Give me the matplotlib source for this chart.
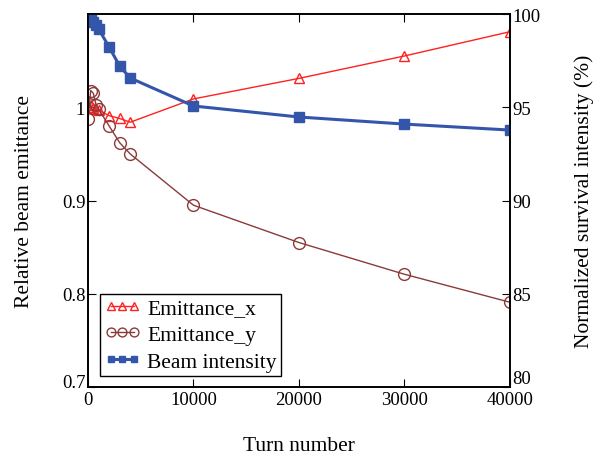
import matplotlib
matplotlib.use('Agg')
import matplotlib.pyplot as plt
import numpy as np

plt.rcParams['font.family'] = ['Liberation Serif', 'DejaVu Serif']

# Daten
turns = [0, 250, 500, 750, 1000, 2000, 3000, 4000, 10000, 20000, 30000, 40000]
emit_x = [1.000, 1.002, 0.999, 0.998, 0.997, 0.991, 0.988, 0.984, 1.009, 1.031, 1.055, 1.081]
emit_y = [0.987, 1.018, 1.015, 1.003, 0.998, 0.980, 0.962, 0.950, 0.895, 0.855, 0.821, 0.791]
intensity = [100.0, 99.85, 99.6, 99.4, 99.2, 98.23, 97.21, 96.57, 95.07, 94.48, 94.10, 93.78]

red = '#ff2020'
brown = '#8b3a3a'
blue = '#3356aa'

fig = plt.figure(figsize=(5.99, 4.56), dpi=100)
ax = fig.add_axes([0.147, 0.149, 0.704, 0.818])
ax2 = ax.twinx()

l1, = ax.plot(turns, emit_x, '-', color=red, lw=1, marker='^', ms=7,
              mfc='none', mec=red, mew=1, label='Emittance_x')
l2, = ax.plot(turns, emit_y, '-', color=brown, lw=1, marker='o', ms=8.5,
              mfc='none', mec=brown, mew=1, label='Emittance_y')
l3, = ax2.plot(turns, intensity, '-', color=blue, lw=2.2, marker='s', ms=6.5,
               mfc=blue, mec=blue, label='Beam intensity')

ax.set_xlim(0, 40000)
ax.set_ylim(0.7, 1.1)
ax2.set_ylim(80, 100)
ax.set_xticks([0, 10000, 20000, 30000, 40000])
ax.set_yticks([0.7, 0.8, 0.9, 1.0])
ax.set_yticklabels(['0.7', '0.8', '0.9', '1'])
ax2.set_yticks([80, 85, 90, 95, 100])

ax.tick_params(axis='x', direction='in', top=True, length=6, labelsize=13.5, pad=3)
ax.tick_params(axis='y', direction='in', length=6, labelsize=13.5, pad=2)
ax2.tick_params(axis='y', direction='in', length=6, labelsize=13.5, pad=2)
# 80 und 0.7 sitzen in der Vorlage etwas hoeher
ax2.yaxis.get_major_ticks()[0].label2.set_verticalalignment('bottom')
ax.yaxis.get_major_ticks()[0].label1.set_verticalalignment('baseline')

ax.set_xlabel('Turn number', fontsize=15.5, labelpad=20)
ax.set_ylabel('Relative beam emittance', fontsize=15.5, labelpad=20)
ax2.set_ylabel('Normalized survival intensity (%)', fontsize=15.5, labelpad=24)

for a in (ax, ax2):
    for s in a.spines.values():
        s.set_linewidth(1.2)

leg = ax.legend(handles=[l1, l2, l3], loc='lower left', numpoints=3,
                fontsize=15.5, frameon=True, fancybox=False, edgecolor='black',
                framealpha=1, handlelength=1.7, handletextpad=0.3,
                borderpad=0.2, labelspacing=0.3, markerscale=0.75,
                bbox_to_anchor=(0.028, 0.03), borderaxespad=0)
leg.get_frame().set_linewidth(1)

fig.savefig('out.png', dpi=100)
